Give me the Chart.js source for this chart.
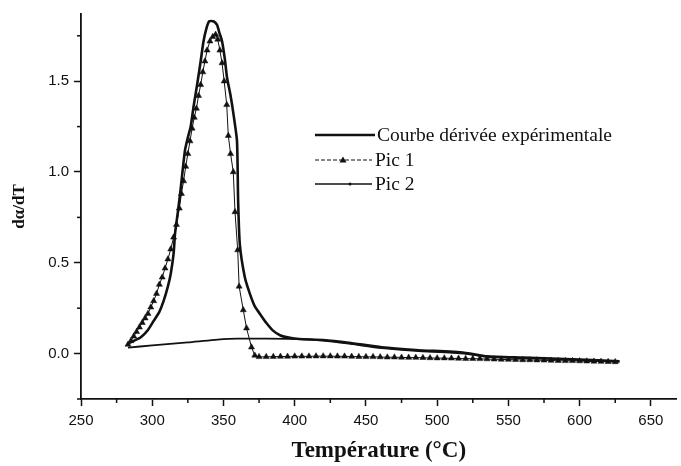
<!DOCTYPE html>
<html>
<head>
<meta charset="utf-8">
<script src="https://cdn.jsdelivr.net/npm/chart.js@4"></script>
<style>
  body { margin: 0; background: #fff; }
  #wrap { width: 681px; height: 466px; position: relative; }
</style>
</head>
<body>
<div id="wrap"><canvas id="myChart"></canvas></div>
<script>
// Courbe dérivée expérimentale
var expT = [283, 287, 292, 297, 301, 305, 308, 311, 313, 315, 316, 318, 320, 321.5, 323, 325, 327, 329, 331.5, 334, 336, 338, 340, 343, 345.5, 347, 349, 351, 352.5, 355, 357, 359.5, 360.3, 361.5, 365, 368.5, 372, 375.5, 380, 385, 390, 395, 403, 420, 438, 461, 485, 519, 535, 560, 590, 628];
var expY = [0.055, 0.07, 0.09, 0.13, 0.18, 0.23, 0.29, 0.37, 0.44, 0.55, 0.66, 0.78, 0.91, 1.02, 1.12, 1.19, 1.25, 1.36, 1.48, 1.61, 1.72, 1.79, 1.83, 1.83, 1.81, 1.77, 1.72, 1.62, 1.52, 1.42, 1.32, 1.17, 0.84, 0.6, 0.42, 0.33, 0.26, 0.22, 0.17, 0.125, 0.1, 0.09, 0.08, 0.075, 0.06, 0.035, 0.02, 0.005, -0.015, -0.022, -0.03, -0.042];

// Pic 1 (triangles)
var pic1T = [283, 285, 287, 289, 291, 293, 295, 297, 299, 301, 303, 305, 307, 309, 311, 313, 315, 317, 319, 320.5, 322, 323.5, 325, 326.5, 328, 329.5, 331, 332.5, 334, 335.5, 337, 338.5, 340.5, 342.5, 344.5, 346, 347.5, 349, 350.5, 352.3, 353.4, 355, 356.9, 358.1, 360, 361, 363.9, 366.2, 369.7, 372, 375,
             380, 385, 390, 395, 400, 405, 410, 415, 420, 425, 430, 435, 440, 445, 450, 455, 460, 465, 470, 475, 480, 485, 490, 495, 500, 505, 510, 515, 520, 525, 530, 535, 540, 545, 550, 555, 560, 565, 570, 575, 580, 585, 590, 595, 600, 605, 610, 615, 620, 625];
var pic1Y = [0.05, 0.07, 0.095, 0.12, 0.145, 0.17, 0.195, 0.22, 0.255, 0.29, 0.33, 0.38, 0.42, 0.47, 0.52, 0.575, 0.64, 0.71, 0.8, 0.88, 0.95, 1.03, 1.1, 1.17, 1.24, 1.3, 1.35, 1.42, 1.48, 1.55, 1.61, 1.67, 1.72, 1.745, 1.757, 1.73, 1.67, 1.6, 1.5, 1.37, 1.2, 1.1, 1.0, 0.78, 0.57, 0.37, 0.24, 0.14, 0.035, -0.01, -0.018,
             -0.018, -0.017, -0.016, -0.016, -0.015, -0.015, -0.015, -0.014, -0.014, -0.014, -0.015, -0.015, -0.016, -0.017, -0.018, -0.018, -0.019, -0.02, -0.02, -0.021, -0.022, -0.022, -0.023, -0.024, -0.025, -0.025, -0.026, -0.027, -0.028, -0.028, -0.029, -0.03, -0.031, -0.032, -0.033, -0.034, -0.035, -0.035, -0.036, -0.037, -0.038, -0.039, -0.04, -0.04, -0.041, -0.042, -0.043, -0.044, -0.045, -0.046];

// Pic 2
var pic2T = [283, 300, 325, 350, 360, 380, 403, 420, 438, 461, 485, 519, 535, 560, 590, 628];
var pic2Y = [0.033, 0.045, 0.062, 0.08, 0.082, 0.082, 0.08, 0.072, 0.055, 0.03, 0.015, 0.0, -0.018, -0.024, -0.032, -0.044];

var xTicks = [250, 300, 350, 400, 450, 500, 550, 600, 650];
var yTicks = [0.0, 0.5, 1.0, 1.5];
var xMinor = [275, 325, 375, 425, 475, 525, 575, 625];
var yMinor = [-0.25, 0.25, 0.75, 1.25, 1.75];

var legendLabels = ["Courbe dérivée expérimentale", "Pic 1", "Pic 2"];

function pts(xs, ys) {
    return xs.map(function (x, i) { return { x: x, y: ys[i] }; });
}

var ink = "#111";

var minorTicks = {
    id: "minorTicks",
    afterDraw: function (chart) {
        var ctx = chart.ctx;
        var xs = chart.scales.x, ys = chart.scales.y;
        ctx.save();
        ctx.strokeStyle = ink;
        ctx.lineWidth = 1.5;
        xMinor.forEach(function (v) {
            var px = xs.getPixelForValue(v);
            ctx.beginPath();
            ctx.moveTo(px, xs.top);
            ctx.lineTo(px, xs.top + 4);
            ctx.stroke();
        });
        yMinor.forEach(function (v) {
            var py = ys.getPixelForValue(v);
            ctx.beginPath();
            ctx.moveTo(ys.right, py);
            ctx.lineTo(ys.right - 4, py);
            ctx.stroke();
        });
        ctx.restore();
    }
};

var legendBox = {
    id: "legendBox",
    afterDraw: function (chart) {
        var ctx = chart.ctx;
        var rows = [135, 160, 184];
        var x0 = 315, x1 = 375;
        ctx.save();
        ctx.strokeStyle = ink;
        ctx.fillStyle = ink;
        // experimental
        ctx.lineWidth = 2.6;
        ctx.beginPath(); ctx.moveTo(x0, rows[0]); ctx.lineTo(x1, rows[0]); ctx.stroke();
        // pic 1
        ctx.lineWidth = 1;
        ctx.setLineDash([4, 2]);
        ctx.beginPath(); ctx.moveTo(x0, rows[1]); ctx.lineTo(x1 - 3, rows[1]); ctx.stroke();
        ctx.setLineDash([]);
        ctx.beginPath();
        ctx.moveTo(343, rows[1] - 3.5); ctx.lineTo(346.5, rows[1] + 2.5); ctx.lineTo(339.5, rows[1] + 2.5);
        ctx.closePath(); ctx.fill();
        // pic 2
        ctx.lineWidth = 1.3;
        ctx.beginPath(); ctx.moveTo(x0, rows[2]); ctx.lineTo(x1 - 3, rows[2]); ctx.stroke();
        ctx.beginPath(); ctx.arc(350, rows[2], 1.5, 0, Math.PI * 2); ctx.fill();
        // text
        ctx.font = "19.5px 'Liberation Serif', 'Times New Roman', serif";
        ctx.textBaseline = "middle";
        ctx.fillText(legendLabels[0], 377, rows[0] + 1);
        ctx.fillText(legendLabels[1], 375, rows[1] + 1);
        ctx.fillText(legendLabels[2], 375, rows[2] + 1);
        ctx.restore();
    }
};

new Chart("myChart", {
    type: "line",
    data: {
        datasets: [{
            label: legendLabels[0],
            data: pts(expT, expY),
            borderColor: ink,
            borderWidth: 2.6,
            pointRadius: 0,
            tension: 0.2,
            order: 1
        }, {
            label: legendLabels[1],
            data: pts(pic1T, pic1Y),
            borderColor: ink,
            backgroundColor: ink,
            borderWidth: 1,
            pointStyle: "triangle",
            pointRadius: 3.5,
            pointBorderWidth: 0.5,
            tension: 0,
            order: 2
        }, {
            label: legendLabels[2],
            data: pts(pic2T, pic2Y),
            borderColor: ink,
            backgroundColor: ink,
            borderWidth: 1.8,
            pointRadius: 0,
            tension: 0.2,
            order: 3
        }]
    },
    options: {
        responsive: true,
        maintainAspectRatio: false,
        animation: false,
        layout: { padding: { top: 13, right: 0, left: 0, bottom: 0 } },
        plugins: {
            legend: { display: false },
            tooltip: { enabled: false }
        },
        scales: {
            x: {
                type: "linear",
                min: 250,
                max: 668,
                afterBuildTicks: function (s) { s.ticks = xTicks.map(function (v) { return { value: v }; }); },
                afterFit: function (s) { s.height = 67; },
                grid: { drawOnChartArea: false, drawTicks: true, tickLength: 7, tickWidth: 1.5, tickColor: ink },
                border: { display: true, color: ink, width: 1.8 },
                ticks: {
                    color: ink,
                    padding: 6,
                    maxRotation: 0,
                    font: { family: "'Liberation Sans', Arial, sans-serif", size: 15 },
                    callback: function (v) { return String(v); }
                },
                title: {
                    display: true,
                    text: "Température (°C)",
                    color: ink,
                    padding: { top: 0, bottom: 1 },
                    font: { family: "'Liberation Serif', 'Times New Roman', serif", size: 23, weight: "bold" }
                }
            },
            y: {
                type: "linear",
                min: -0.25,
                max: 1.87,
                afterBuildTicks: function (s) { s.ticks = yTicks.map(function (v) { return { value: v }; }); },
                afterFit: function (s) { s.width = 81; },
                grid: { drawOnChartArea: false, drawTicks: true, tickLength: 7, tickWidth: 1.5, tickColor: ink },
                border: { display: true, color: ink, width: 1.8 },
                ticks: {
                    color: ink,
                    padding: 5,
                    font: { family: "'Liberation Sans', Arial, sans-serif", size: 15 },
                    callback: function (v) { return Number(v).toFixed(1); }
                },
                title: {
                    display: true,
                    text: "dα/dT",
                    color: ink,
                    padding: { top: 9, bottom: 0 },
                    font: { family: "'Liberation Serif', 'Times New Roman', serif", size: 17, weight: "bold" }
                }
            }
        }
    },
    plugins: [minorTicks, legendBox]
});
</script>
</body>
</html>
